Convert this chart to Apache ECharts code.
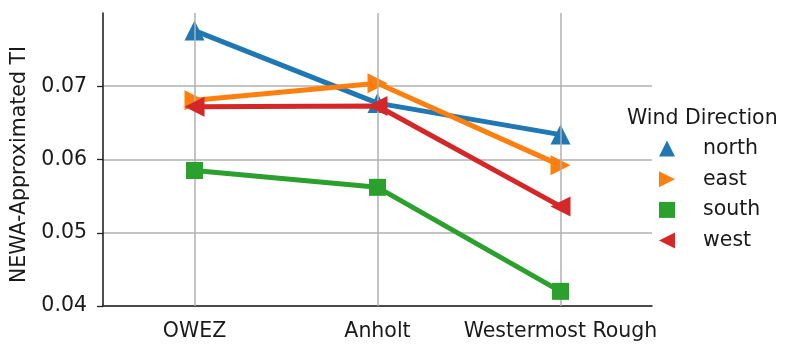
<!DOCTYPE html>
<html><head><meta charset="utf-8">
<script src="https://cdn.jsdelivr.net/npm/echarts@6/dist/echarts.min.js"></script>
<style>html,body{margin:0;padding:0;background:#fff}#c{width:791px;height:357px}</style>
</head><body><div id="c"></div>
<script>
const categories = ['OWEZ', 'Anholt', 'Westermost Rough'];
const north = [0.0776, 0.0677, 0.0634];
const east  = [0.0681, 0.0704, 0.0592];
const south = [0.0585, 0.0562, 0.0420];
const west  = [0.0672, 0.0673, 0.0536];
const seriesNames = ['north', 'east', 'south', 'west'];
const yTicks = [0.04, 0.05, 0.06, 0.07];

const colors = ['#1f77b4', '#ff7f0e', '#2ca02c', '#d62728'];
const symbols = ['triangle', 'triangle', 'rect', 'triangle'];
const rotates = [0, -90, 0, 90];
const sizes = [20, 20, 17, 20];
const values = [north, east, south, west];
const FONT = 'DejaVu Sans';
const FS = 20.5;
const TXT = '#1a1a1a';

const series = seriesNames.map((n, i) => ({
  name: n, type: 'line', data: values[i],
  symbol: symbols[i], symbolRotate: rotates[i], symbolSize: sizes[i],
  lineStyle: { color: colors[i], width: 5 },
  itemStyle: { color: colors[i] },
  z: 3 + i
}));
series.unshift({
  name: 'grid', type: 'line', data: [], z: 1, silent: true,
  markLine: {
    silent: true, symbol: 'none', label: { show: false },
    lineStyle: { color: '#b0b0b0', type: 'solid', width: 1.5 },
    data: categories.map(c => ({ xAxis: c }))
  }
});

const chart = echarts.init(document.getElementById('c'), null, { renderer: 'canvas' });
chart.setOption({
  animation: false,
  backgroundColor: '#fff',
  grid: { left: 103, right: 139, top: 13, bottom: 51 },
  title: {
    text: 'Wind Direction', left: 622, top: 103,
    textStyle: { fontFamily: FONT, fontSize: FS, fontWeight: 'normal', color: TXT }
  },
  legend: {
    data: seriesNames, orient: 'vertical', left: 652, top: 133,
    itemWidth: 20, itemHeight: 20, itemGap: 9.7,
    lineStyle: { width: 0, opacity: 0 },
    textStyle: { fontFamily: FONT, fontSize: FS, color: TXT, padding: [0, 0, 0, 21] }
  },
  xAxis: {
    type: 'category', data: categories, boundaryGap: true,
    axisLine: { lineStyle: { color: '#222', width: 1.6 } },
    axisTick: { alignWithLabel: true, length: 6, lineStyle: { color: '#222', width: 1.3 } },
    axisLabel: { fontFamily: FONT, fontSize: FS, color: TXT, margin: 15, interval: 0, hideOverlap: false },
    splitLine: { show: false }
  },
  yAxis: {
    type: 'value', min: 0.04, max: 0.08, interval: 0.01,
    name: 'NEWA-Approximated TI', nameLocation: 'middle', nameGap: 67,
    nameTextStyle: { fontFamily: FONT, fontSize: FS, color: TXT, padding: [0, 10, 0, 0] },
    axisLine: { show: true, lineStyle: { color: '#222', width: 1.6 } },
    axisTick: { show: true, length: 6, lineStyle: { color: '#222', width: 1.3 } },
    axisLabel: {
      fontFamily: FONT, fontSize: FS, color: TXT, margin: 16, showMaxLabel: false,
      formatter: v => yTicks.some(t => Math.abs(t - v) < 1e-9) ? v.toFixed(2) : ''
    },
    splitLine: { show: true, showMaxLine: false, lineStyle: { color: '#b0b0b0', width: 1.5 } }
  },
  series: series
});
</script></body></html>
